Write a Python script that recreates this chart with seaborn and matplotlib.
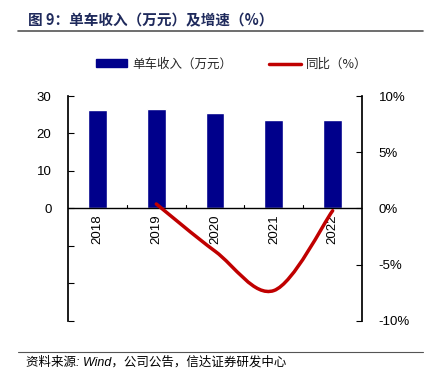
import matplotlib.pyplot as plt
import seaborn as sns
import numpy as np
import pandas as pd
from matplotlib.path import Path
from matplotlib.patches import PathPatch, Patch
from matplotlib.lines import Line2D

# --- datos ---
years = ['2018', '2019', '2020', '2021', '2022']
revenue = [26.3, 26.5, 25.4, 23.6, 23.6]        # 单车收入（万元）
growth_years = ['2019', '2020', '2021', '2022']
growth = [0.4, -3.8, -7.3, -0.2]                  # 同比（%）

title = '图 9：单车收入（万元）及增速（%）'
source = '资料来源: Wind，公司公告，信达证券研发中心'

sns.set_theme(style='white')
plt.rcParams['font.family'] = ['Liberation Sans', 'Noto Sans CJK SC', 'DejaVu Sans']
plt.rcParams['axes.unicode_minus'] = False

bar_color = '#00008B'
line_color = '#C00000'

df = pd.DataFrame({'year': years, 'revenue': revenue})

fig = plt.figure(figsize=(4.31, 3.78), dpi=100)
ax = fig.add_axes([0.158, 0.151, 0.682, 0.595])

sns.barplot(data=df, x='year', y='revenue', color=bar_color, width=0.32,
            saturation=1, ax=ax)
ax.set_ylim(-30, 30)
ax.set_xlim(-0.5, len(years) - 0.5)
ax.set_yticks([-30, -20, -10, 0, 10, 20, 30])
ax.set_yticklabels(['', '', '', '0', '10', '20', '30'])
ax.set_xlabel('')
ax.set_ylabel('')

# eje x en cero, sin etiquetas propias
ax.axhline(0, color='black', lw=1, zorder=3)
ax.set_xticks([])
for i, yr in enumerate(years):
    ax.text(i, -1.6, yr, rotation=90, ha='center', va='top', fontsize=9.5,
            color='black')
for b in np.arange(0.5, len(years) - 0.5, 1):
    ax.plot([b, b], [0, 0.9], color='black', lw=0.8, zorder=3)

for s in ['top', 'bottom']:
    ax.spines[s].set_visible(False)
ax.spines['left'].set_color('black')
ax.spines['right'].set_visible(False)
ax.tick_params(axis='y', direction='in', length=4, width=0.8, left=True,
               labelsize=9.5, colors='black', pad=12)

# eje derecho
ax2 = ax.twinx()
ax2.set_ylim(-10, 10)
ax2.set_yticks([-10, -5, 0, 5, 10])
ax2.set_yticklabels(['-10%', '-5%', '0%', '5%', '10%'])
for s in ['top', 'bottom', 'left']:
    ax2.spines[s].set_visible(False)
ax2.spines['right'].set_color('black')
ax2.tick_params(axis='y', direction='in', length=4, width=0.8, right=True,
                labelsize=9.5, colors='black', pad=12)
ax2.grid(False)

# curva suavizada (Catmull-Rom -> Bezier cúbica)
xs = np.array([years.index(y) for y in growth_years], dtype=float)
ys = np.array(growth, dtype=float)
pts = np.column_stack([xs, ys])
ext = np.vstack([pts[0], pts, pts[-1]])
verts = [tuple(pts[0])]
codes = [Path.MOVETO]
for i in range(1, len(ext) - 2):
    p0, p1, p2, p3 = ext[i - 1], ext[i], ext[i + 1], ext[i + 2]
    c1 = p1 + (p2 - p0) / 6
    c2 = p2 - (p3 - p1) / 6
    verts += [tuple(c1), tuple(c2), tuple(p2)]
    codes += [Path.CURVE4] * 3
ax2.add_patch(PathPatch(Path(verts, codes), fill=False, edgecolor=line_color,
                        lw=2.5, capstyle='round', zorder=4))

# leyenda
handles = [Patch(color=bar_color), Line2D([0], [0], color=line_color, lw=2.5)]
fig.legend(handles, ['单车收入（万元）', '同比（%）'], loc='center',
           bbox_to_anchor=(0.537, 0.83), ncol=2, frameon=False,
           handlelength=2.5, handleheight=0.6, columnspacing=3.0,
           handletextpad=0.4,
           prop={'family': ['Noto Sans CJK SC'], 'size': 9})

# título y fuente
fig.text(0.065, 0.945, title, fontsize=10.5, fontweight='bold', color='#1F2A5C',
         family=['Noto Sans CJK SC'], va='center')
fig.add_artist(Line2D([0.042, 0.982], [0.918, 0.918], color='#555555', lw=1.2))
fig.add_artist(Line2D([0.042, 0.982], [0.069, 0.069], color='#555555', lw=0.8))
fig.text(0.06, 0.042, source, fontsize=9, style='italic', color='black',
         family=['Liberation Sans', 'Noto Sans CJK SC'], va='center')

fig.savefig('out.png', dpi=100)
